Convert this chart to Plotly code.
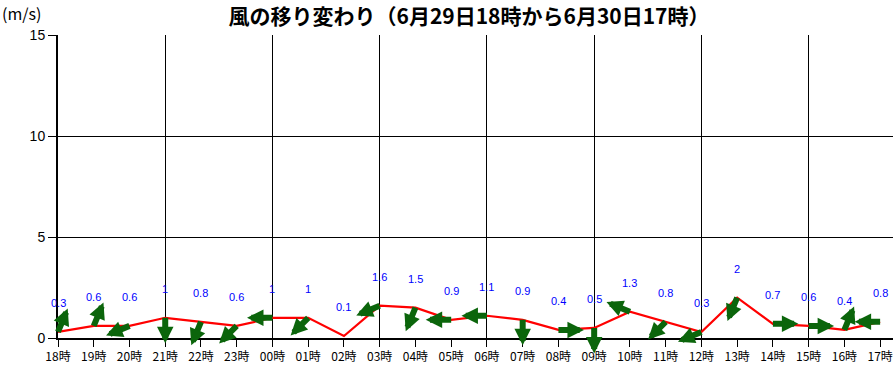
import math
import plotly.graph_objects as go

hours = ["18時", "19時", "20時", "21時", "22時", "23時", "00時", "01時", "02時", "03時", "04時", "05時",
         "06時", "07時", "08時", "09時", "10時", "11時", "12時", "13時", "14時", "15時", "16時", "17時"]
speeds = [0.3, 0.6, 0.6, 1, 0.8, 0.6, 1, 1, 0.1, 1.6, 1.5, 0.9,
          1.1, 0.9, 0.4, 0.5, 1.3, 0.8, 0.3, 2, 0.7, 0.6, 0.4, 0.8]
# bearing (degrees clockwise from north) the arrow points to; None = no arrow
arrow_bearing = [22.5, 22.5, 247.5, 180, 202.5, 225, 270, 225, None, 247.5, 202.5, 270,
                 270, 180, 90, 180, 292.5, 225, 247.5, 202.5, 90, 90, 22.5, 270]
speed_labels = ["0.3", "0.6", "0.6", "1", "0.8", "0.6", "1", "1", "0.1", "1.6", "1.5", "0.9",
                "1.1", "0.9", "0.4", "0.5", "1.3", "0.8", "0.3", "2", "0.7", "0.6", "0.4", "0.8"]
grid_hours = [3, 6, 9, 12, 15, 18, 21]
y_ticks = [0, 5, 10, 15]

W, H = 895, 366
ML, MR, MT, MB = 58, 2, 35, 28
XMAX = 23.36
YMAX = 15
ARROW_LEN = 27

xs = list(range(len(hours)))
fig = go.Figure()
fig.add_trace(go.Scatter(x=xs, y=speeds, mode="lines",
                         line=dict(color="#ff0000", width=2.2), hoverinfo="skip",
                         showlegend=False))
# overlay axis just for 3-hourly vertical gridlines
fig.add_trace(go.Scatter(x=[0], y=[0], xaxis="x2", mode="markers",
                         marker=dict(opacity=0), showlegend=False, hoverinfo="skip"))

annotations = []
for i, (v, b, t) in enumerate(zip(speeds, arrow_bearing, speed_labels)):
    annotations.append(dict(x=i, y=v, text=t, showarrow=False, yshift=29,
                            font=dict(family="Liberation Sans, Arial", size=11, color="#0000ff")))
    if b is None:
        continue
    r = math.radians(b)
    dxp = ARROW_LEN * math.sin(r)
    dyp = ARROW_LEN * math.cos(r)
    # anchor (tail) at the data point, head drawn at the offset end
    annotations.append(dict(x=i, y=v, xref="x", yref="y",
                            ax=dxp, ay=-dyp, text="", showarrow=True,
                            arrowside="start", startarrowhead=2, startarrowsize=0.55,
                            arrowwidth=6, arrowcolor="#0b650b"))

annotations.append(dict(x=0, y=1, xref="paper", yref="paper", yshift=MT - 13,
                        xanchor="left", yanchor="middle", showarrow=False,
                        text="(m/s)", xshift=-ML,
                        font=dict(family="Noto Sans CJK JP", size=16, color="black")))

fig.update_layout(
    width=W, height=H,
    margin=dict(l=ML, r=MR, t=MT, b=MB),
    paper_bgcolor="white", plot_bgcolor="white",
    title=dict(text="<b>風の移り変わり（6月29日18時から6月30日17時）</b>",
               x=469 / W, xanchor="center", xref="container",
               y=1 - 17 / H, yanchor="middle", yref="container",
               font=dict(family="Noto Sans CJK JP", size=21, color="black")),
    xaxis=dict(range=[0, XMAX], tickvals=xs, ticktext=hours, showgrid=False,
               zeroline=False, showline=True, linecolor="black", linewidth=2,
               ticks="outside", ticklen=7, tickcolor="black", tickwidth=1,
               automargin=False,
               tickfont=dict(family="Noto Sans CJK JP", size=12, color="black")),
    xaxis2=dict(range=[0, XMAX], overlaying="x", tickvals=grid_hours, showgrid=True,
                gridcolor="black", gridwidth=1, showticklabels=False, ticks="",
                zeroline=False, showline=False, automargin=False),
    yaxis=dict(range=[0, YMAX], tickvals=y_ticks, showgrid=True, gridcolor="black",
               gridwidth=1, zeroline=False, showline=True, linecolor="black", linewidth=2,
               ticks="outside", ticklen=8, tickcolor="black", automargin=False,
               tickfont=dict(family="Liberation Sans, Arial", size=14, color="black")),
    annotations=annotations,
)
fig.write_html("out.html", config={"displayModeBar": False},
               post_script="document.body.style.margin='0';")
